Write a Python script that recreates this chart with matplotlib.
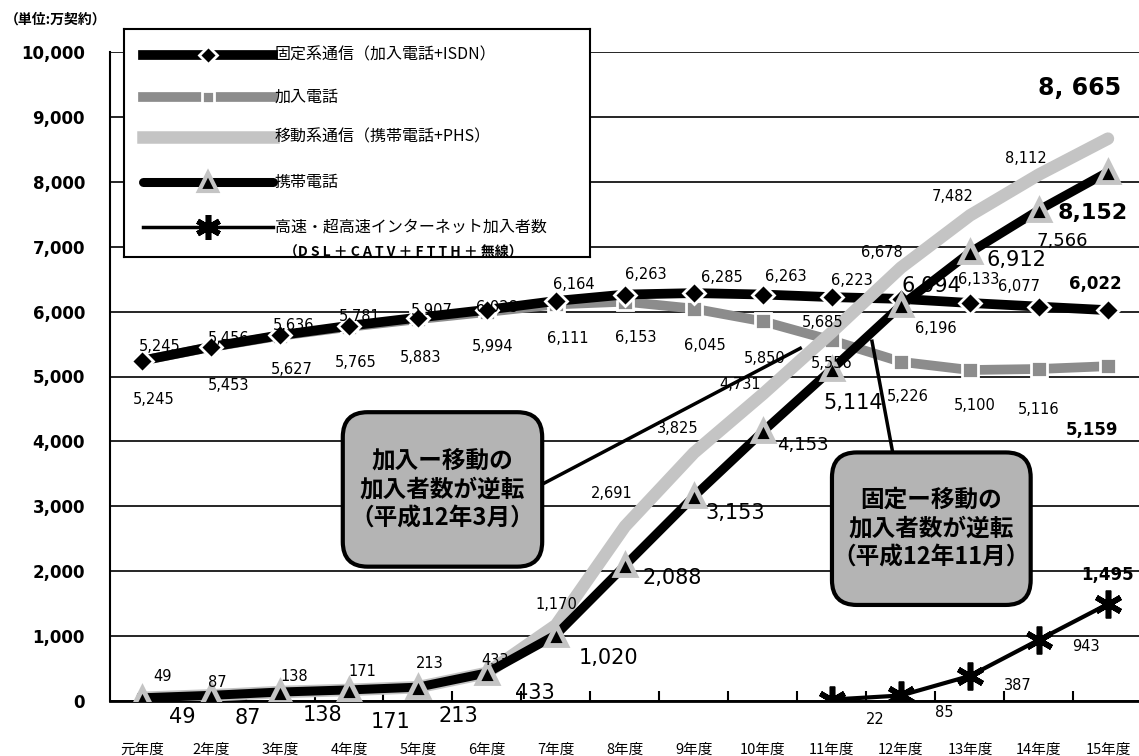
import numpy as np
import matplotlib
matplotlib.use('Agg')
import matplotlib.pyplot as plt
from matplotlib.patches import FancyBboxPatch

plt.rcParams['font.family'] = ['DejaVu Sans', 'Noto Sans CJK JP']
JP = ['Noto Sans CJK JP', 'DejaVu Sans']
NUM = ['Liberation Sans Narrow', 'DejaVu Sans']

years = ['元年度', '2年度', '3年度', '4年度', '5年度', '6年度', '7年度', '8年度',
         '9年度', '10年度', '11年度', '12年度', '13年度', '14年度', '15年度']
fixed = [5245, 5456, 5636, 5781, 5907, 6028, 6164, 6263, 6285, 6263, 6223, 6196, 6133, 6077, 6022]
subscriber = [5245, 5453, 5627, 5765, 5883, 5994, 6111, 6153, 6045, 5850, 5556, 5226, 5100, 5116, 5159]
mobile = [49, 87, 138, 171, 213, 433, 1170, 2691, 3825, 4731, 5685, 6678, 7482, 8112, 8665]
cellular = [49, 87, 138, 171, 213, 433, 1020, 2088, 3153, 4153, 5114, 6094, 6912, 7566, 8152]
net_years = years[10:]
internet = [22, 85, 387, 943, 1495]

legend_names = ['固定系通信（加入電話+ISDN）', '加入電話', '移動系通信（携帯電話+PHS）',
                '携帯電話', '高速・超高速インターネット加入者数']
callouts = ['加入ー移動の\n加入者数が逆転\n（平成12年3月）',
            '固定ー移動の\n加入者数が逆転\n（平成12年11月）']

# label offsets in pixels (dx, dy down)
fixed_off = [(18, -14), (18, -8), (14, -10), (11, -9), (14, -7), (10, -2), (18, -16), (21, -20),
             (28, -16), (23, -18), (20, -17), (35, 30), (9, -23), (-20, -20), (-13, -26)]
sub_off = [(12, 39), (18, 38), (12, 34), (7, 36), (3, 38), (6, 35), (12, 34), (11, 36),
           (11, 37), (2, 37), (0, 23), (7, 35), (5, 35), (0, 41), (-16, 64)]
mob_off = [(21, -21), (6, -13), (14, -16), (13, -18), (12, -24), (8, -12), (0, -21), (-13, -33),
           (-16, -24), (-23, -9), (-9, -10), (-19, -15), (-17, -19), (-13, -16), (-28, -51)]
cell_off = [(40, 19), (37, 23), (42, 23), (42, 32), (40, 29), (48, 20), (53, 23), (47, 13),
            (41, 17), (40, 14), (21, 34), (30, -19), (46, 8), (23, 31), (-15, 41)]
net_off = [(43, 20), (43, 17), (48, 10), (47, 7), (0, -29)]

W, H = 1139, 756
fig = plt.figure(figsize=(W / 100, H / 100), dpi=100)
ax = fig.add_axes([110 / W, 1 - 701 / H, (W - 110) / W, (701 - 52) / H])

x = np.arange(len(years))
xn = np.arange(10, 15)

ax.plot(x, subscriber, color='#8c8c8c', lw=7, marker='s', ms=12, mfc='#8c8c8c',
        mec='white', mew=2, zorder=3)
ax.plot(x, fixed, color='black', lw=7, marker='D', ms=11, mfc='black', mec='white',
        mew=2, zorder=4)
ax.plot(x, mobile, color='#c4c4c4', lw=9, solid_capstyle='round', zorder=5)
ax.plot(x, cellular, color='black', lw=6.5, marker='^', ms=15, mfc='black',
        mec='#c4c4c4', mew=3.5, zorder=6)
ax.plot(xn, internet, color='black', lw=3, marker=(6, 2, 0), ms=20, mew=4, zorder=6)

ax.set_xlim(-0.464, 14.45)
ax.set_ylim(0, 10000)
ax.set_yticks(range(0, 10001, 1000))
ax.set_yticklabels([f'{v:,}' for v in range(0, 10001, 1000)], fontweight='bold', fontsize=12)
ax.yaxis.grid(True, color='black', lw=1.2)
ax.set_axisbelow(True)
ax.tick_params(axis='y', length=0, pad=18)
ax.set_xticks(x)
ax.set_xticklabels(years, family=JP, fontsize=10.5)
ax.set_xticks(x[:-1] + 0.5, minor=True)
ax.tick_params(axis='x', which='major', length=0, pad=30)
ax.tick_params(axis='x', which='minor', direction='in', length=7, width=1.5)
for s in ['top', 'right']:
    ax.spines[s].set_visible(False)
ax.spines['left'].set_linewidth(1.5)
ax.spines['bottom'].set_linewidth(2)
ax.spines['bottom'].set_zorder(2)


def lab(xi, v, off, size, bold=False, text=None):
    ax.annotate(text or f'{v:,}', (xi, v), xytext=(off[0], -off[1]), textcoords='offset pixels',
                ha='center', va='center', fontsize=size, family=NUM,
                fontweight='bold' if bold else 'normal', zorder=8)


for i in range(len(years)):
    last = i == len(years) - 1
    lab(i, fixed[i], fixed_off[i], 12 if last else 10.5, bold=last)
    lab(i, subscriber[i], sub_off[i], 12 if last else 10.5, bold=last)
    lab(i, mobile[i], mob_off[i], 17 if last else 10.5, bold=last,
        text='8, 665' if last else None)
    csize = 13 if i in (9, 13) else 15
    lab(i, cellular[i], cell_off[i], 16 if last else csize, bold=last)
for j, xi in enumerate(xn):
    last = j == len(xn) - 1
    lab(xi, internet[j], net_off[j], 12 if last else 10.5, bold=last)

# callout boxes
boxes = [(2.91, 2070, 2.89, 2380), (10.0, 1480, 2.88, 2350)]
for (bx, by, bw, bh), txt in zip(boxes, callouts):
    ax.add_patch(FancyBboxPatch((bx, by), bw, bh, boxstyle='round,pad=0,rounding_size=0.36',
                                mutation_aspect=1065, fc='#b4b4b4', ec='black', lw=3, zorder=9))
    ax.text(bx + bw / 2, by + bh / 2, txt, ha='center', va='center', family=JP,
            fontsize=17, fontweight='bold', linespacing=1.25, zorder=10)
ax.plot([5.80, 9.54], [3340, 5434], color='black', lw=2.5, zorder=7)
ax.plot([10.88, 10.58], [3830, 5543], color='black', lw=2.5, zorder=7)

# legend
lax = fig.add_axes([124 / W, 1 - 257 / H, (590 - 124) / W, (257 - 29) / H])
lax.set_xlim(0, 466)
lax.set_ylim(228, 0)
lax.set_xticks([])
lax.set_yticks([])
for s in lax.spines.values():
    s.set_linewidth(1.5)
ys = [26, 68, 108, 153, 198]
lax.plot([19, 149], [ys[0]] * 2, color='black', lw=7)
lax.plot([84], [ys[0]], marker='D', ms=9, mfc='black', mec='white', mew=2)
lax.plot([19, 149], [ys[1]] * 2, color='#8c8c8c', lw=7)
lax.plot([84], [ys[1]], marker='s', ms=8, mfc='#8c8c8c', mec='white', mew=2)
lax.plot([19, 149], [ys[2]] * 2, color='#c4c4c4', lw=9)
lax.plot([19, 149], [ys[3]] * 2, color='black', lw=6.5, solid_capstyle='round')
lax.plot([84], [ys[3]], marker='^', ms=13, mfc='black', mec='#c4c4c4', mew=3)
lax.plot([19, 149], [ys[4]] * 2, color='black', lw=2.5)
lax.plot([84], [ys[4]], marker=(6, 2, 0), ms=18, mew=4, color='black')
for yy, name in zip(ys, legend_names):
    lax.text(151, yy, name, va='center', ha='left', family=JP, fontsize=11.5)
lax.text(160, 224, '（D S L ＋ C A T V ＋ F T T H ＋ 無線）', va='center', ha='left',
         family=JP, fontsize=10, fontweight='bold')

fig.text(5 / W, 1 - 20 / H, '（単位:万契約）', family=JP, fontsize=10, fontweight='bold',
         va='center', ha='left')

fig.savefig('out.png', dpi=100)
